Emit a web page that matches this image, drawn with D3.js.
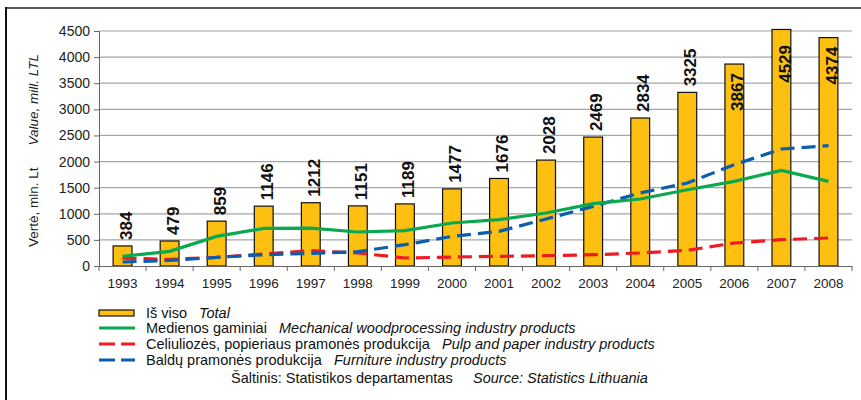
<!DOCTYPE html>
<html><head><meta charset="utf-8">
<script src="https://cdn.jsdelivr.net/npm/d3@7"></script>
<style>body{margin:0;background:#fff;} svg{display:block;font-family:"Liberation Sans",Arial,sans-serif;}</style>
</head><body>
<svg id="c" width="861" height="400"></svg>
<script>
const years = ["1993","1994","1995","1996","1997","1998","1999","2000","2001","2002","2003","2004","2005","2006","2007","2008"];
const total = [384,479,859,1146,1212,1151,1189,1477,1676,2028,2469,2834,3325,3867,4529,4374];
const wood = [184,280,567,720,727,651,676,823,887,1015,1193,1283,1461,1620,1831,1620];
const pulp = [150,127,165,230,293,249,153,172,184,197,216,249,299,440,504,536];
const furniture = [77,107,165,216,241,274,408,567,663,900,1142,1398,1589,1940,2240,2304];
const yTicks = [0,500,1000,1500,2000,2500,3000,3500,4000,4500];

(function(){
const svg = d3.select("#c");
const mL = 99, mR = 852, mT = 31, mB = 266;
const x = d3.scaleBand().domain(years).range([mL, mR]).paddingInner(0.6).paddingOuter(0.3);
const xb = d3.scaleBand().domain(years).range([mL, mR]);
const y = d3.scaleLinear().domain([0,4500]).range([mB, mT]);

// frame
svg.append("line").attr("x1",6).attr("x2",861).attr("y1",8).attr("y2",8).attr("stroke","#555").attr("stroke-width",2);
svg.append("line").attr("x1",6).attr("x2",6).attr("y1",7).attr("y2",400).attr("stroke","#111").attr("stroke-width",2);

// grid
svg.append("g").selectAll("line").data(yTicks.slice(1)).join("line")
  .attr("x1",mL).attr("x2",mR).attr("y1",d=>y(d)).attr("y2",d=>y(d))
  .attr("stroke","#a6a6a6").attr("stroke-width",1.2);

// y axis
const ya = svg.append("g").attr("transform",`translate(${mL},0)`)
  .call(d3.axisLeft(y).tickValues(yTicks).tickSize(5).tickPadding(4).tickFormat(d3.format("d")));
ya.select(".domain").attr("stroke","#666");
ya.selectAll(".tick line").attr("stroke","#666");
ya.selectAll("text").attr("font-size",14).attr("fill","#222").attr("font-family","Liberation Sans, Arial");

// bars
svg.append("g").selectAll("rect").data(total).join("rect")
  .attr("x",(d,i)=>x(years[i])).attr("width",x.bandwidth())
  .attr("y",d=>y(d)).attr("height",d=>mB-y(d))
  .attr("fill","#FDC010").attr("stroke","#111").attr("stroke-width",1.2);

// x axis
const xa = svg.append("g").attr("transform",`translate(0,${mB})`)
  .call(d3.axisBottom(xb).tickSize(0).tickPadding(12));
xa.select(".domain").attr("stroke","#666").attr("stroke-width",1.2);
xa.selectAll("text").attr("font-size",13.5).attr("fill","#222").attr("font-family","Liberation Sans, Arial");
svg.append("g").selectAll("line").data(years.concat(["end"])).join("line")
  .attr("x1",(d,i)=>mL+xb.step()*i).attr("x2",(d,i)=>mL+xb.step()*i)
  .attr("y1",mB).attr("y2",mB+5).attr("stroke","#666").attr("stroke-width",1);

// lines
const cx = i => xb(years[i]) + xb.bandwidth()/2;
const line = d3.line().x((d,i)=>cx(i)).y(d=>y(d));
svg.append("path").datum(pulp).attr("d",line).attr("fill","none").attr("stroke","#ED1C24").attr("stroke-width",3.2).attr("stroke-dasharray","14,7");
svg.append("path").datum(furniture).attr("d",line).attr("fill","none").attr("stroke","#0B5DAD").attr("stroke-width",3.2).attr("stroke-dasharray","14,7");
svg.append("path").datum(wood).attr("d",line).attr("fill","none").attr("stroke","#0AA84F").attr("stroke-width",3.2);

// bar labels
svg.append("g").selectAll("text").data(total).join("text")
  .attr("transform",(d,i)=>{
    const inside = d > 3600;
    const yy = inside ? Math.max(y(d)+9, mT+14) : y(d)-6;
    return `translate(${cx(i)+3},${yy}) rotate(-90)`;
  })
  .attr("text-anchor",d=>d>3600?"end":"start")
  .attr("dy","0.36em")
  .attr("font-size",17).attr("font-weight","bold").attr("fill","#111")
  .text(d=>d);

// y title
const yt = svg.append("text").attr("transform","translate(38,247) rotate(-90)").attr("font-size",13.5).attr("fill","#222");
yt.append("tspan").text("Vertė, mln. Lt");
yt.append("tspan").attr("dx",22).attr("font-style","italic").text("Value, mill. LTL");

// legend
const lg = svg.append("g").attr("font-size",14.5).attr("fill","#111");
const rows = [
  {type:"bar", lt:"Iš viso", en:"Total", enx:199, cy:313},
  {type:"line", color:"#0AA84F", dash:null, lt:"Medienos gaminiai", en:"Mechanical woodprocessing industry products", enx:279, cy:328},
  {type:"line", color:"#ED1C24", dash:"16,6", lt:"Celiuliozės, popieriaus pramonės produkcija", en:"Pulp and paper industry products", enx:442, cy:344},
  {type:"line", color:"#0B5DAD", dash:"16,6", lt:"Baldų pramonės produkcija", en:"Furniture industry products", enx:334, cy:360}
];
rows.forEach(r=>{
  if (r.type==="bar") {
    lg.append("rect").attr("x",99).attr("y",r.cy-3).attr("width",35).attr("height",6).attr("fill","#FDC010").attr("stroke","#111").attr("stroke-width",1.2);
  } else {
    lg.append("line").attr("x1",99).attr("x2",135).attr("y1",r.cy).attr("y2",r.cy).attr("stroke",r.color).attr("stroke-width",3.2).attr("stroke-dasharray",r.dash);
  }
  lg.append("text").attr("x",146).attr("y",r.cy+5).text(r.lt);
  lg.append("text").attr("x",r.enx).attr("y",r.cy+5).attr("font-style","italic").text(r.en);
});
lg.append("text").attr("x",231).attr("y",383).text("Šaltinis: Statistikos departamentas");
lg.append("text").attr("x",473).attr("y",383).attr("font-style","italic").text("Source: Statistics Lithuania");
})();
</script>
</body></html>
